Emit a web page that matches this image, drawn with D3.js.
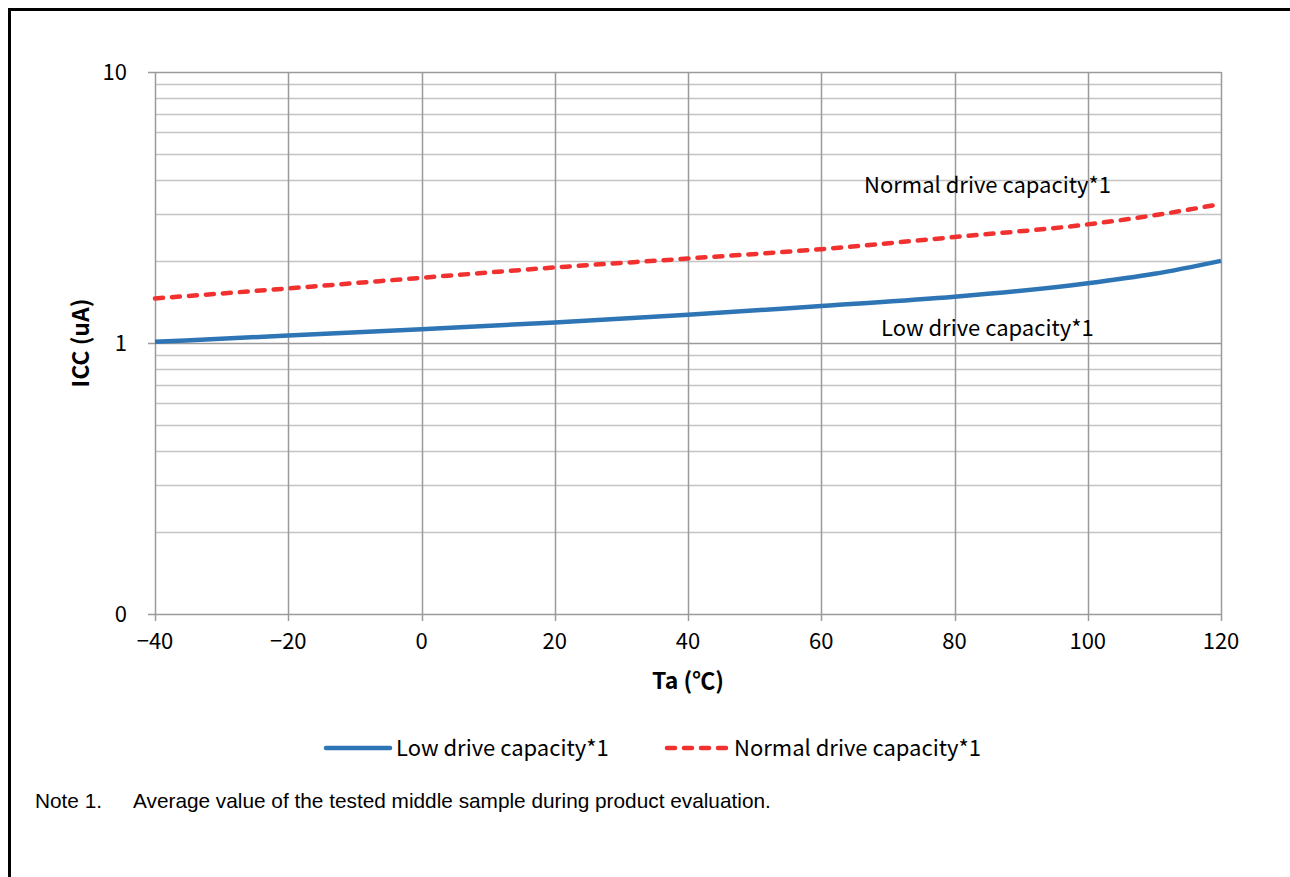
<!DOCTYPE html>
<html>
<head>
<meta charset="utf-8">
<script src="https://cdn.jsdelivr.net/npm/d3@7"></script>
<style>
  body { margin: 0; background: #fff; }
  text { font-family: "Noto Sans CJK JP", "Noto Sans", sans-serif; fill: #000; }
</style>
</head>
<body>
<div id="plot"></div>
<script>
// chart data
var temps = [-40, -20, 0, 20, 40, 60, 80, 100, 110, 120];
var lowDrive = [1.01, 1.065, 1.125, 1.19, 1.27, 1.37, 1.48, 1.66, 1.80, 2.01];
var normalDrive = [1.46, 1.59, 1.74, 1.90, 2.05, 2.22, 2.46, 2.74, 2.96, 3.26];
var xTicks = [-40, -20, 0, 20, 40, 60, 80, 100, 120];
var yTicks = [0.1, 1, 10];
var yTickLabels = ["0", "1", "10"];
var seriesNames = ["Low drive capacity*1", "Normal drive capacity*1"];

var width = 1290;
var height = 877;
var blue = '#2e75b6';
var red = '#f0312f';
var fs = "22px";

var svg = d3.select("div#plot")
  .append("svg")
  .attr("width", width)
  .attr("height", height);

var x = d3.scaleLinear().domain([-40, 120]).range([155, 1221]);
var y = d3.scaleLog().domain([0.1, 10]).range([614, 72]);

// frame
svg.append("path")
  .attr("d", "M9.5,877 L9.5,9.5 L1290,9.5")
  .attr("fill", "none")
  .attr("stroke", "#000")
  .attr("stroke-width", 3);

// horizontal grid (minor then major)
var minor = y.ticks().filter(function(v){ return yTicks.indexOf(v) < 0; });
svg.append("g").selectAll("line")
  .data(minor)
  .enter().append("line")
  .attr("x1", x(-40)).attr("x2", x(120))
  .attr("y1", function(d){ return Math.round(y(d)) + 0.5; })
  .attr("y2", function(d){ return Math.round(y(d)) + 0.5; })
  .attr("stroke", "#c4c4c4")
  .attr("stroke-width", 1.5);

svg.append("g").selectAll("line")
  .data(yTicks)
  .enter().append("line")
  .attr("x1", x(-40) - 7).attr("x2", x(120))
  .attr("y1", function(d){ return Math.round(y(d)) + 0.5; })
  .attr("y2", function(d){ return Math.round(y(d)) + 0.5; })
  .attr("stroke", "#9a9a9a")
  .attr("stroke-width", 1.5);

// vertical grid + x ticks
svg.append("g").selectAll("line")
  .data(xTicks)
  .enter().append("line")
  .attr("x1", function(d){ return Math.round(x(d)) + 0.5; })
  .attr("x2", function(d){ return Math.round(x(d)) + 0.5; })
  .attr("y1", y(10))
  .attr("y2", y(0.1) + 7)
  .attr("stroke", "#9a9a9a")
  .attr("stroke-width", 1.5);

// tick labels
svg.append("g").selectAll("text")
  .data(xTicks)
  .enter().append("text")
  .attr("x", function(d){ return x(d); })
  .attr("y", 649)
  .attr("text-anchor", "middle")
  .style("font-size", fs)
  .text(function(d){ return d < 0 ? "\u2212" + Math.abs(d) : d; });

svg.append("g").selectAll("text")
  .data(yTicks)
  .enter().append("text")
  .attr("x", 127)
  .attr("y", function(d){ return y(d) + 8; })
  .attr("text-anchor", "end")
  .style("font-size", fs)
  .text(function(d, i){ return yTickLabels[i]; });

// axis titles
svg.append("text")
  .attr("transform", "translate(89,343) rotate(-90)")
  .attr("text-anchor", "middle")
  .style("font-size", "23px")
  .style("font-weight", "bold")
  .text("ICC (uA)");

svg.append("text")
  .attr("x", 688)
  .attr("y", 689)
  .attr("text-anchor", "middle")
  .style("font-size", "23px")
  .style("font-weight", "bold")
  .text("Ta (\u2103)");

// lines
var line = d3.line()
  .x(function(d, i){ return x(temps[i]); })
  .y(function(d){ return y(d); })
  .curve(d3.curveMonotoneX);

svg.append("path")
  .datum(lowDrive)
  .attr("d", line)
  .attr("fill", "none")
  .attr("stroke", blue)
  .attr("stroke-width", 4.5);

svg.append("path")
  .datum(normalDrive)
  .attr("d", line)
  .attr("fill", "none")
  .attr("stroke", red)
  .attr("stroke-width", 4.5)
  .attr("stroke-linecap", "round")
  .attr("stroke-dasharray", "8,9");

// in-chart labels
svg.append("text")
  .attr("x", 864).attr("y", 193)
  .style("font-size", fs)
  .text(seriesNames[1]);

svg.append("text")
  .attr("x", 881).attr("y", 336)
  .style("font-size", fs)
  .text(seriesNames[0]);

// legend
var legend = svg.append("g");
legend.append("line")
  .attr("x1", 326).attr("x2", 390)
  .attr("y1", 748).attr("y2", 748)
  .attr("stroke", blue)
  .attr("stroke-width", 4.5)
  .attr("stroke-linecap", "round");
legend.append("text")
  .attr("x", 396).attr("y", 756)
  .style("font-size", fs)
  .text(seriesNames[0]);
legend.append("line")
  .attr("x1", 667).attr("x2", 730)
  .attr("y1", 748).attr("y2", 748)
  .attr("stroke", red)
  .attr("stroke-width", 4.5)
  .attr("stroke-linecap", "round")
  .attr("stroke-dasharray", "8,9");
legend.append("text")
  .attr("x", 734).attr("y", 756)
  .style("font-size", fs)
  .text(seriesNames[1]);

// note
var note = svg.append("g")
  .style("font-family", "'Liberation Sans', Arial, sans-serif")
  .style("font-size", "20.8px");
note.append("text")
  .attr("x", 35).attr("y", 808)
  .style("font-family", "inherit")
  .text("Note 1.");
note.append("text")
  .attr("x", 133).attr("y", 808)
  .style("font-family", "inherit")
  .text("Average value of the tested middle sample during product evaluation.");
</script>
</body>
</html>
